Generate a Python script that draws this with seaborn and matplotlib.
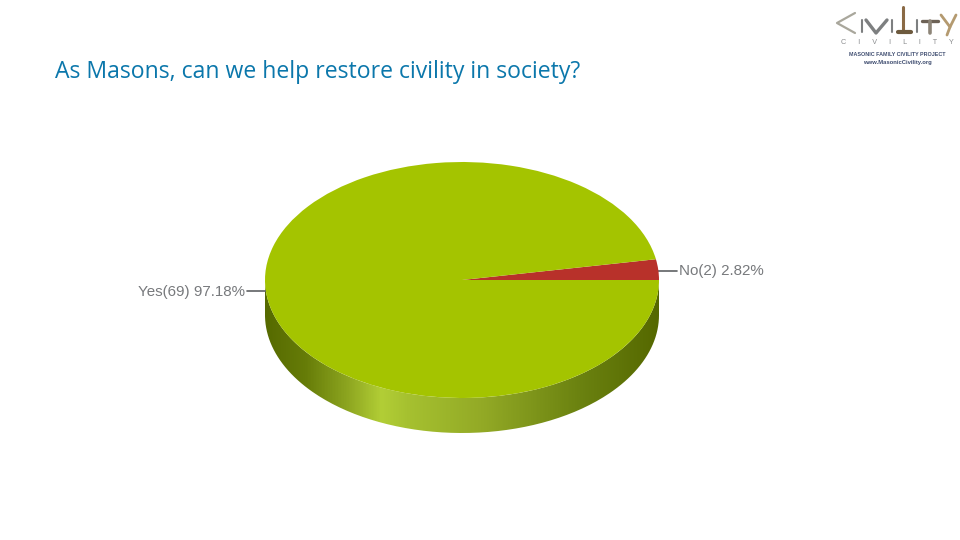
import numpy as np
import matplotlib
matplotlib.use("Agg")
import matplotlib.pyplot as plt
from matplotlib.path import Path
from matplotlib.patches import PathPatch
from matplotlib.colors import LinearSegmentedColormap
import seaborn as sns

categories = ["No", "Yes"]
counts = [2, 69]
percents = ["2.82%", "97.18%"]
colors = ["#b8312a", "#a4c400"]
title = "As Masons, can we help restore civility in society?"

sns.set_theme(style="white")
plt.rcParams["font.family"] = ["Liberation Sans", "DejaVu Sans"]

W, H = 960, 540
fig = plt.figure(figsize=(W / 100, H / 100), dpi=100, facecolor="white")

# Canvas in pixel coordinates
bg = fig.add_axes([0, 0, 1, 1])
bg.set_xlim(0, W)
bg.set_ylim(H, 0)
bg.axis("off")

cx, cy, rx, ry, depth = 462, 280, 197, 118, 35

# Extruded rim with horizontal shading
t = np.linspace(0, np.pi, 200)
xs = cx + rx * np.cos(t)
ys = cy + ry * np.sin(t)
verts = np.vstack([np.c_[xs, ys + depth], np.c_[xs[::-1], ys[::-1]], [[xs[0], ys[0] + depth]]])
rim = PathPatch(Path(verts), transform=bg.transData, fc="none", ec="none")
bg.add_patch(rim)
cmap = LinearSegmentedColormap.from_list("rim", [
    (0.00, "#566a00"), (0.10, "#667c08"), (0.20, "#8aa21e"), (0.295, "#b2ce36"),
    (0.36, "#a6c130"), (0.55, "#93aa26"), (0.80, "#6b8210"), (1.00, "#556800")])
img = bg.imshow(np.linspace(0, 1, 400)[None, :], cmap=cmap, aspect="auto",
                extent=[cx - rx, cx + rx, cy + ry + depth, cy], zorder=1)
img.set_clip_path(rim)
bg.set_xlim(0, W)
bg.set_ylim(H, 0)

# Pie top, squashed into an ellipse
pie_ax = fig.add_axes([(cx - rx) / W, 1 - (cy + ry) / H, 2 * rx / W, 2 * ry / H])
wedges, _ = pie_ax.pie(counts, colors=colors, startangle=0, counterclock=True, radius=1,
                       wedgeprops=dict(linewidth=0))
pie_ax.set_aspect("auto")
pie_ax.set_xlim(-1, 1)
pie_ax.set_ylim(-1, 1)
pie_ax.patch.set_alpha(0)

# Labels with leader lines, placed at each wedge's middle angle
grey = "#77797c"
for w, cat, n, pct in zip(wedges, categories, counts, percents):
    a = np.deg2rad((w.theta1 + w.theta2) / 2)
    x0 = cx + rx * np.cos(a)
    y0 = cy - ry * np.sin(a) + 1
    sgn = 1 if np.cos(a) > 0 else -1
    bg.plot([x0, x0 + sgn * 19], [y0, y0], color="#5f6164", lw=1.2, zorder=3)
    bg.text(x0 + sgn * 21, y0 + 0.5, f"{cat}({n}) {pct}", color=grey, fontsize=10.9,
            ha="left" if sgn > 0 else "right", va="center", zorder=3)

bg.text(55, 72.5, title, color="#0b77ab", fontsize=16.6, ha="left", va="center",
        family=["Open Sans", "Liberation Sans"])

# Logo
slate = "#7d7f80"
bg.plot([855, 837, 855], [13, 23, 33], color="#a9a79c", lw=1.6, solid_capstyle="round")
bg.plot([862, 862], [20, 32], color=slate, lw=1.5)
bg.plot([866, 876, 887], [20, 33, 20], color=slate, lw=2.4)
bg.plot([892, 892], [20, 32], color=slate, lw=1.5)
bg.plot([903, 903], [7, 30], color="#8a6a45", lw=2.2)
bg.plot([898, 911], [31.5, 31.5], color="#6d5a3e", lw=3)
bg.plot([917, 917], [20, 32], color=slate, lw=1.5)
bg.plot([922, 938], [21, 21], color="#6d6256", lw=2.4)
bg.plot([930, 930], [21, 33], color="#8d8578", lw=2.6)
bg.plot([941, 950, 956], [15, 27, 15], color="#b49a70", lw=2)
bg.plot([950, 947], [27, 35], color="#b49a70", lw=2)
bg.text(897, 43, "C      I      V      I      L      I      T      Y", color="#8a8c8e",
        fontsize=5.2, ha="center", va="center")
bg.text(897, 54, "MASONIC FAMILY CIVILITY PROJECT", color="#3f4d70", fontsize=3.85,
        fontweight="bold", ha="center", va="center")
bg.text(897, 62.5, "www.MasonicCivility.org", color="#3f4d70", fontsize=4.2,
        fontweight="bold", ha="center", va="center")

fig.savefig("out.png", dpi=100, facecolor="white")
